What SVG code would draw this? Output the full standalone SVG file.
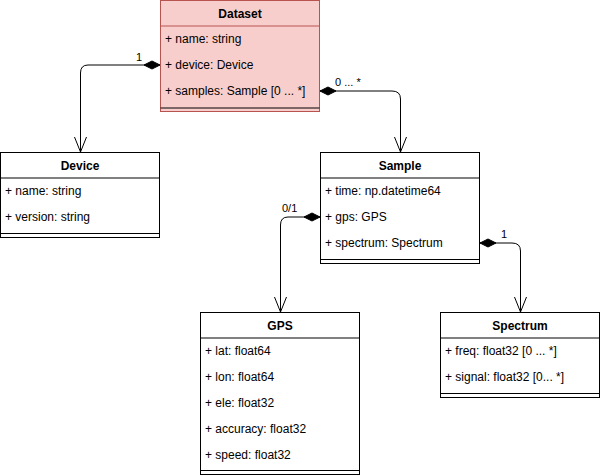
<svg xmlns="http://www.w3.org/2000/svg" width="601" height="476" viewBox="0 0 601 476">
<defs>
<marker id="diamond" markerWidth="18" markerHeight="10" refX="0" refY="5" orient="auto" markerUnits="userSpaceOnUse">
<path d="M0,5 L8,1 L16,5 L8,9 Z" fill="#000" stroke="#000" stroke-width="1"/>
</marker>
<marker id="open" markerWidth="16" markerHeight="18" refX="15" refY="6.5" orient="auto" markerUnits="userSpaceOnUse">
<path d="M0,0.5 L15,6.5 L0,12.5" fill="none" stroke="#000" stroke-width="1"/>
</marker>
<style>
.box{fill:#fff;stroke:#000;stroke-width:1}
.red{fill:#f8cecc;stroke:#b85450}
.ln{stroke:#000;stroke-width:1;fill:none}
.redln{stroke:#b85450}
.hd{font-family:"Liberation Sans",Arial,sans-serif;font-size:12px;font-weight:bold;text-anchor:middle;fill:#000}
.at{font-family:"Liberation Sans",Arial,sans-serif;font-size:12px;fill:#000}
.lb{font-family:"Liberation Sans",Arial,sans-serif;font-size:11px;fill:#000}
.edge{stroke:#000;stroke-width:1;fill:none}
</style>
</defs>
<rect width="601" height="476" fill="#fff"/>

<g id="Dataset">
<rect class="box red" x="160.5" y="0.5" width="159" height="111"/>
<line class="ln redln" x1="160.5" y1="26" x2="319.5" y2="26"/>
<line class="ln" x1="160.5" y1="108" x2="319.5" y2="108"/>
<text class="hd" x="240" y="18">Dataset</text>
<text class="at" x="165" y="43">+ name: string</text>
<text class="at" x="165" y="69">+ device: Device</text>
<text class="at" x="165" y="95">+ samples: Sample [0 ... *]</text>
</g>

<g id="Device">
<rect class="box" x="0.5" y="152.5" width="159" height="85"/>
<line class="ln" x1="0.5" y1="178" x2="159.5" y2="178"/>
<line class="ln" x1="0.5" y1="233.5" x2="159.5" y2="233.5"/>
<text class="hd" x="80" y="170">Device</text>
<text class="at" x="5" y="195">+ name: string</text>
<text class="at" x="5" y="221">+ version: string</text>
</g>

<g id="Sample">
<rect class="box" x="320.5" y="152.5" width="159" height="111"/>
<line class="ln" x1="320.5" y1="178" x2="479.5" y2="178"/>
<line class="ln" x1="320.5" y1="259.5" x2="479.5" y2="259.5"/>
<text class="hd" x="400" y="170">Sample</text>
<text class="at" x="325" y="195">+ time: np.datetime64</text>
<text class="at" x="325" y="221">+ gps: GPS</text>
<text class="at" x="325" y="247">+ spectrum: Spectrum</text>
</g>

<g id="GPS">
<rect class="box" x="200.5" y="312.5" width="159" height="162"/>
<line class="ln" x1="200.5" y1="338" x2="359.5" y2="338"/>
<line class="ln" x1="200.5" y1="470.5" x2="359.5" y2="470.5"/>
<text class="hd" x="280" y="330">GPS</text>
<text class="at" x="205" y="355">+ lat: float64</text>
<text class="at" x="205" y="381">+ lon: float64</text>
<text class="at" x="205" y="407">+ ele: float32</text>
<text class="at" x="205" y="433">+ accuracy: float32</text>
<text class="at" x="205" y="459">+ speed: float32</text>
</g>

<g id="Spectrum">
<rect class="box" x="440.5" y="312.5" width="159" height="85"/>
<line class="ln" x1="440.5" y1="338" x2="599.5" y2="338"/>
<line class="ln" x1="440.5" y1="393.5" x2="599.5" y2="393.5"/>
<text class="hd" x="520" y="330">Spectrum</text>
<text class="at" x="445" y="355">+ freq: float32 [0 ... *]</text>
<text class="at" x="445" y="381">+ signal: float32 [0... *]</text>
</g>

<g id="connectors">
<path class="edge" d="M160,65 L88,65 Q80.5,65 80.5,73 L80.5,152" marker-start="url(#diamond)" marker-end="url(#open)"/>
<text class="lb" x="136" y="61">1</text>
<path class="edge" d="M320,91 L392,91 Q400.5,91 400.5,99 L400.5,152" marker-start="url(#diamond)" marker-end="url(#open)"/>
<text class="lb" x="335" y="86">0 ... *</text>
<path class="edge" d="M320,217 L288,217 Q280.5,217 280.5,225 L280.5,312" marker-start="url(#diamond)" marker-end="url(#open)"/>
<text class="lb" x="282" y="212">0/1</text>
<path class="edge" d="M480,243 L512,243 Q520.5,243 520.5,251 L520.5,312" marker-start="url(#diamond)" marker-end="url(#open)"/>
<text class="lb" x="501" y="238">1</text>
</g>
</svg>
